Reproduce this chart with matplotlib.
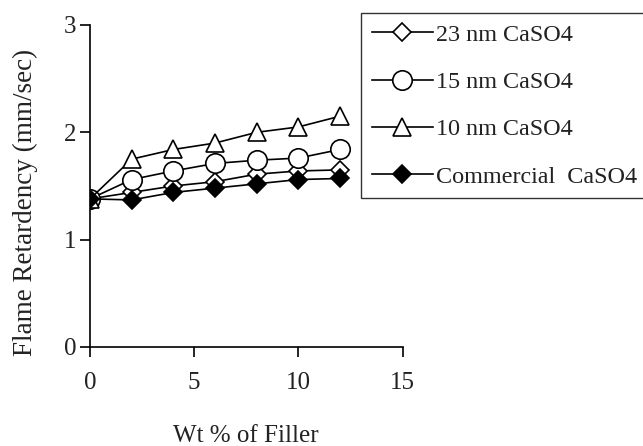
import numpy as np
import matplotlib
matplotlib.use('Agg')
import matplotlib.pyplot as plt

plt.rcParams['font.family'] = ['Liberation Serif', 'DejaVu Serif']

# data
wt = [0, 2, 4, 6, 8, 10, 12]
nm23 = [1.38, 1.44, 1.50, 1.54, 1.61, 1.64, 1.65]
nm15 = [1.38, 1.56, 1.64, 1.71, 1.74, 1.76, 1.84]
nm10 = [1.38, 1.75, 1.84, 1.90, 2.00, 2.05, 2.15]
commercial = [1.38, 1.37, 1.44, 1.48, 1.52, 1.56, 1.57]

labels = ['23 nm CaSO4', '15 nm CaSO4', '10 nm CaSO4', 'Commercial  CaSO4']

fig = plt.figure(figsize=(6.43, 4.46), dpi=100)
ax = fig.add_axes([0.140, 0.222, 0.486, 0.722])

lw = 1.2
ax.plot(wt, nm23, color='black', lw=lw, marker='D', ms=9, mfc='white', mec='black', mew=1.2, label=labels[0])
ax.plot(wt, nm15, color='black', lw=lw, marker='o', ms=14, mfc='white', mec='black', mew=1.2, label=labels[1])
ax.plot(wt, nm10, color='black', lw=lw, marker='^', ms=13, mfc='white', mec='black', mew=1.2, label=labels[2])
ax.plot(wt, commercial, color='black', lw=lw, marker='D', ms=9, mfc='black', mec='black', mew=1.2, label=labels[3])

ax.set_xlim(0, 15)
ax.set_ylim(0, 3)
ax.set_xticks([0, 5, 10, 15])
ax.set_yticks([0, 1, 2, 3])
ax.spines['top'].set_visible(False)
ax.spines['right'].set_visible(False)
ax.spines['left'].set_linewidth(1.2)
ax.spines['bottom'].set_linewidth(1.2)
ax.tick_params(axis='x', direction='out', length=7, width=1.2, labelsize=18, pad=11)
ax.tick_params(axis='y', direction='out', length=7, width=1.2, labelsize=18, pad=3)
for lab in ax.get_xticklabels() + ax.get_yticklabels():
    lab.set_color('#222222')

ax.set_xlabel('Wt % of Filler', fontsize=18, labelpad=22, color='#222222')
# y label sits a bit below the axes centre in the original
fig.text(25 / 643, 1 - 202 / 446, 'Flame Retardency (mm/sec)', rotation=90,
         ha='center', va='center', fontsize=19.5, color='#222222')

leg = fig.legend(loc='upper left', bbox_to_anchor=(0.561, 0.971), fontsize=17.4,
                 frameon=True, fancybox=False, edgecolor='black', handlelength=2.55,
                 handletextpad=0.1, labelspacing=1.05, borderpad=0.45, borderaxespad=0)
leg.get_frame().set_linewidth(1.0)
for t in leg.get_texts():
    t.set_color('#222222')

fig.savefig('out.png', dpi=100)
